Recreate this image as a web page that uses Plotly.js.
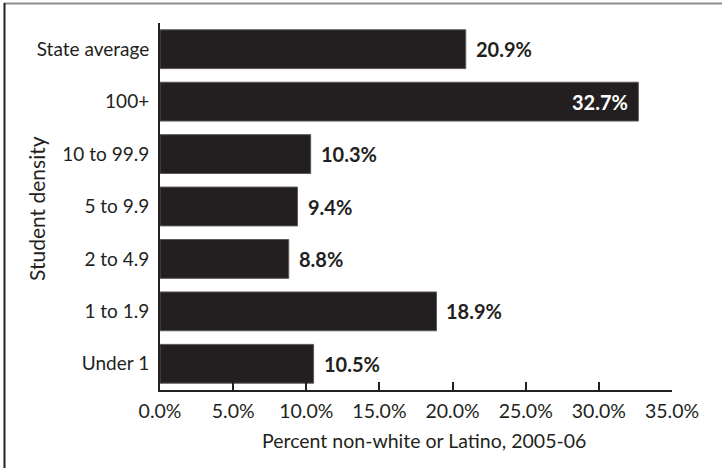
<!DOCTYPE html>
<html>
<head>
<meta charset="utf-8">
<script src="https://cdn.plot.ly/plotly-3.0.1.min.js"></script>
<style>
  html, body { margin: 0; padding: 0; background: #fff; }
  #chart { width: 722px; height: 468px; }
</style>
</head>
<body>
<div id="chart"></div>
<script>
// Share of students who are non-white or Latino, by student density
const categories = ['State average', '100+', '10 to 99.9', '5 to 9.9', '2 to 4.9', '1 to 1.9', 'Under 1'];
const values = [20.9, 32.7, 10.3, 9.4, 8.8, 18.9, 10.5];
const valueLabels = ['20.9%', '32.7%', '10.3%', '9.4%', '8.8%', '18.9%', '10.5%'];
const xTickValues = [0, 5, 10, 15, 20, 25, 30, 35];
const xTickLabels = ['0.0%', '5.0%', '10.0%', '15.0%', '20.0%', '25.0%', '30.0%', '35.0%'];
const xTitle = 'Percent non-white or Latino, 2005-06';
const yTitle = 'Student density';

const FONT = 'Lato, "Open Sans", sans-serif';
const INK = '#231f20';
const AXIS_MAX = 35;

// plot area in pixels, used to place the frame and axis titles in paper units
const PLOT = { left: 160, right: 672, top: 23, bottom: 390 };
const px = x => (x - PLOT.left) / (PLOT.right - PLOT.left);
const py = y => (PLOT.bottom - y) / (PLOT.bottom - PLOT.top);

// Labels go just past the bar end, or inside it when the bar runs near the axis end
const annotations = values.map((v, i) => {
  const inside = v > 30;
  return {
    x: v, y: categories[i], xref: 'x', yref: 'y',
    text: '<b>' + valueLabels[i] + '</b>',
    showarrow: false,
    xanchor: inside ? 'right' : 'left',
    xshift: inside ? -8 : 8,
    font: { family: FONT, size: 20, color: inside ? '#ffffff' : INK }
  };
});

// axis titles
annotations.push({
  xref: 'paper', yref: 'paper', x: px(424), y: py(440),
  xanchor: 'center', yanchor: 'middle', showarrow: false,
  text: xTitle, font: { family: FONT, size: 19.5, color: INK }
});
annotations.push({
  xref: 'paper', yref: 'paper', x: px(37), y: py(209),
  xanchor: 'center', yanchor: 'middle', showarrow: false, textangle: -90,
  text: yTitle, font: { family: FONT, size: 21, color: INK }
});

const trace = {
  type: 'bar',
  orientation: 'h',
  y: categories,
  x: values,
  width: 0.74,
  marker: { color: INK, line: { color: '#5a5657', width: 1 } },
  hoverinfo: 'none'
};

const layout = {
  width: 722,
  height: 468,
  margin: { l: PLOT.left, r: 722 - PLOT.right, t: PLOT.top, b: 468 - PLOT.bottom, pad: 0 },
  paper_bgcolor: '#ffffff',
  plot_bgcolor: '#ffffff',
  showlegend: false,
  font: { family: FONT, color: INK },
  xaxis: {
    range: [0, AXIS_MAX],
    tickvals: xTickValues,
    ticktext: xTickLabels,
    ticks: 'inside',
    ticklen: 8,
    tickwidth: 2,
    tickcolor: INK,
    showline: true,
    linecolor: INK,
    linewidth: 2,
    showgrid: false,
    zeroline: false,
    tickfont: { family: FONT, size: 19.5, color: INK },
    ticklabelstandoff: 3,
    fixedrange: true
  },
  yaxis: {
    type: 'category',
    categoryorder: 'array',
    categoryarray: categories.slice().reverse(),
    range: [-0.5, categories.length - 0.5],
    showline: true,
    linecolor: INK,
    linewidth: 2,
    ticks: '',
    showgrid: false,
    zeroline: false,
    tickfont: { family: FONT, size: 19, color: INK },
    ticklabelstandoff: 5,
    fixedrange: true
  },
  annotations: annotations,
  shapes: [
    // outer frame: grey top rule and dark left rule
    { type: 'line', xref: 'paper', yref: 'paper', x0: px(4), x1: px(722), y0: py(3.5), y1: py(3.5),
      line: { color: '#8c8c8c', width: 2 } },
    { type: 'line', xref: 'paper', yref: 'paper', x0: px(4.5), x1: px(4.5), y0: py(3), y1: py(470),
      line: { color: INK, width: 2 } }
  ]
};

Plotly.newPlot('chart', [trace], layout, { staticPlot: true, displayModeBar: false });
</script>
</body>
</html>
